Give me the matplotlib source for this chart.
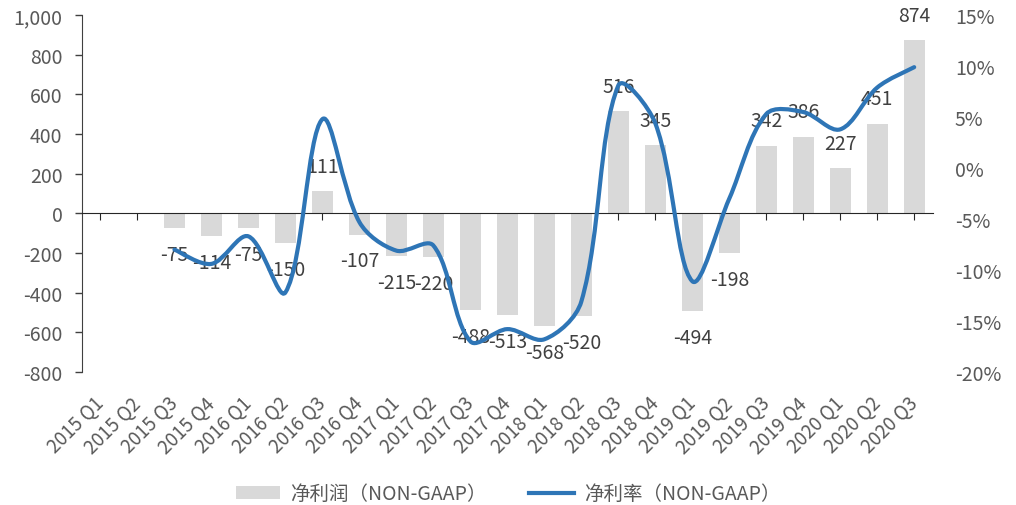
import numpy as np
import matplotlib.pyplot as plt
from matplotlib.path import Path
from matplotlib.patches import PathPatch, Patch
from matplotlib.lines import Line2D
from matplotlib.ticker import FuncFormatter

plt.rcParams['font.family'] = ['Noto Sans CJK SC', 'DejaVu Sans']
plt.rcParams['axes.unicode_minus'] = False

# 季度
quarters = ['2015 Q1', '2015 Q2', '2015 Q3', '2015 Q4',
            '2016 Q1', '2016 Q2', '2016 Q3', '2016 Q4',
            '2017 Q1', '2017 Q2', '2017 Q3', '2017 Q4',
            '2018 Q1', '2018 Q2', '2018 Q3', '2018 Q4',
            '2019 Q1', '2019 Q2', '2019 Q3', '2019 Q4',
            '2020 Q1', '2020 Q2', '2020 Q3']
# 净利润 (百万), 前两个季度无数据
net_profit = [None, None, -75, -114, -75, -150, 111, -107, -215, -220,
              -488, -513, -568, -520, 516, 345, -494, -198, 342, 386,
              227, 451, 874]
# 净利率 (%)
net_margin = [None, None, -8.0, -9.4, -6.7, -12.2, 4.8, -5.3, -8.1, -7.6,
              -17.0, -15.8, -16.8, -13.1, 8.1, 4.4, -11.1, -3.0, 5.3, 5.5,
              3.8, 7.9, 9.9]

BAR_COLOR = '#d9d9d9'
LINE_COLOR = '#2e75b6'
TEXT_COLOR = '#595959'


def smooth_path(ax, xs, ys):
    # 平滑曲线: 切线按相邻段在屏幕上的长度分配, 减少过冲
    pts = np.column_stack([xs, ys]).astype(float)
    scr = ax.transData.transform(pts)
    n = len(pts)
    seg = np.hypot(*np.diff(scr, axis=0).T)
    tan = np.zeros_like(pts)
    for i in range(n):
        a = pts[i - 1] if i > 0 else pts[i]
        b = pts[i + 1] if i < n - 1 else pts[i]
        tan[i] = b - a
    verts = [pts[0]]
    codes = [Path.MOVETO]
    for i in range(n - 1):
        d = seg[i]
        d_prev = seg[i - 1] if i > 0 else d
        d_next = seg[i + 1] if i + 1 < n - 1 else d
        c1 = pts[i] + tan[i] * d / (d_prev + d) / 3
        c2 = pts[i + 1] - tan[i + 1] * d / (d + d_next) / 3
        verts += [c1, c2, pts[i + 1]]
        codes += [Path.CURVE4] * 3
    return Path(verts, codes)


fig = plt.figure(figsize=(10.16, 5.06), dpi=100)
ax = fig.add_axes([0.0807, 0.263, 0.8373, 0.705])
ax2 = ax.twinx()

x = np.arange(len(quarters))
idx = [i for i, v in enumerate(net_profit) if v is not None]
vals = [net_profit[i] for i in idx]

ax.bar(idx, vals, width=0.57, color=BAR_COLOR, zorder=2)
for i, v in zip(idx, vals):
    off = 18 if v > 0 else -19
    ax.annotate(str(v), (i, v), xytext=(0, off), textcoords='offset points',
                ha='center', va='center', fontsize=14, color='#404040', zorder=4)

ax.set_xlim(-0.5, len(quarters) - 0.5)
ax.set_ylim(-800, 1000)
ax.set_yticks(np.arange(-800, 1001, 200))
ax.yaxis.set_major_formatter(FuncFormatter(lambda v, p: f'{int(v):,}'))
ax.tick_params(axis='y', colors=TEXT_COLOR, labelsize=14, length=5, width=1, pad=9)
ax.tick_params(axis='y', color='#404040')

# 零线作为横轴, 刻度朝下
ax.spines['bottom'].set_position(('data', 0))
ax.spines['bottom'].set_color('#262626')
ax.spines['left'].set_color('#404040')
for s in ['top', 'right']:
    ax.spines[s].set_visible(False)
ax.set_xticks(x)
ax.tick_params(axis='x', direction='out', length=5, color='#262626', labelbottom=False)

sec = ax.secondary_xaxis('bottom')
sec.set_xticks(x, labels=quarters, rotation=45, ha='right', va='center',
               rotation_mode='anchor')
sec.tick_params(length=0, labelsize=13.5, colors=TEXT_COLOR, pad=20)
sec.spines['bottom'].set_visible(False)

# 净利率曲线
ax2.set_ylim(-20, 15)
ax2.set_yticks(np.arange(-20, 16, 5))
ax2.yaxis.set_major_formatter(FuncFormatter(lambda v, p: f'{int(v)}%'))
ax2.tick_params(axis='y', colors=TEXT_COLOR, labelsize=14, length=0, pad=16)
for s in ax2.spines.values():
    s.set_visible(False)

midx = [i for i, v in enumerate(net_margin) if v is not None]
mvals = [net_margin[i] for i in midx]
ax2.add_patch(PathPatch(smooth_path(ax2, midx, mvals), fill=False, edgecolor=LINE_COLOR,
                        linewidth=3, capstyle='round', joinstyle='round', zorder=3))

handles = [Patch(facecolor=BAR_COLOR, edgecolor='none'),
           Line2D([], [], color=LINE_COLOR, linewidth=3)]
fig.legend(handles, ['净利润（NON-GAAP）', '净利率（NON-GAAP）'], loc='center',
           bbox_to_anchor=(0.5, 0.022), ncol=2, frameon=False, fontsize=14,
           handlelength=2.3, handletextpad=0.5, columnspacing=2.2, labelcolor=TEXT_COLOR)

fig.savefig('out.png', dpi=100)
